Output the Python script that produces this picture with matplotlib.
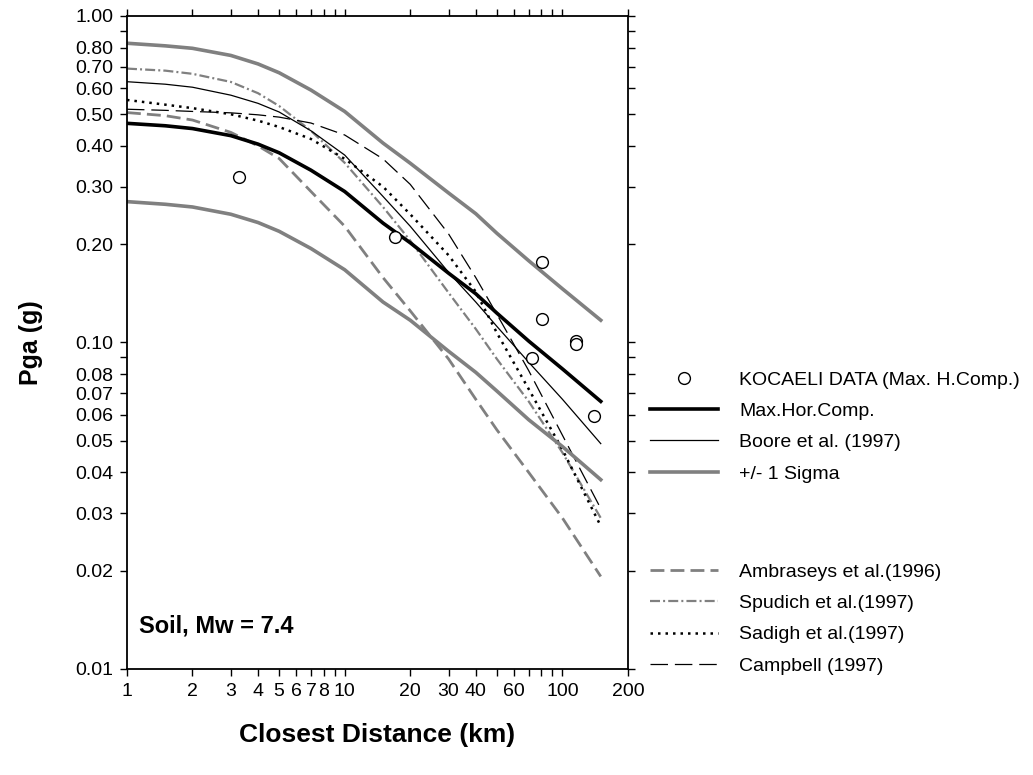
import matplotlib
matplotlib.use("Agg")
import matplotlib.pyplot as plt
from matplotlib.ticker import FixedLocator, FixedFormatter, NullLocator

plt.rcParams['font.family'] = ['Liberation Sans', 'DejaVu Sans']

dist = [1, 1.5, 2, 3, 4, 5, 7, 10, 15, 20, 30, 40, 50, 70, 100, 150]

max_hor = [0.469, 0.461, 0.452, 0.430, 0.405, 0.381, 0.337, 0.290, 0.232, 0.202,
           0.163, 0.141, 0.123, 0.101, 0.083, 0.066]
sigma_up = [0.825, 0.810, 0.796, 0.757, 0.713, 0.670, 0.593, 0.510, 0.408, 0.354,
            0.287, 0.248, 0.216, 0.178, 0.146, 0.117]
sigma_lo = [0.270, 0.265, 0.260, 0.247, 0.233, 0.219, 0.194, 0.167, 0.133, 0.117,
            0.094, 0.081, 0.071, 0.058, 0.048, 0.038]
boore = [0.629, 0.618, 0.605, 0.572, 0.540, 0.508, 0.445, 0.375, 0.280, 0.227,
         0.164, 0.133, 0.112, 0.087, 0.067, 0.049]
ambraseys = [0.506, 0.495, 0.480, 0.440, 0.400, 0.366, 0.290, 0.227, 0.158, 0.125,
             0.089, 0.067, 0.054, 0.040, 0.029, 0.0192]
spudich = [0.690, 0.680, 0.665, 0.628, 0.580, 0.530, 0.445, 0.355, 0.260, 0.205,
           0.142, 0.110, 0.089, 0.066, 0.046, 0.029]
sadigh = [0.553, 0.535, 0.522, 0.500, 0.478, 0.457, 0.420, 0.365, 0.300, 0.247,
          0.185, 0.143, 0.107, 0.072, 0.047, 0.0274]
campbell = [0.518, 0.514, 0.510, 0.505, 0.498, 0.490, 0.470, 0.432, 0.365, 0.305,
            0.215, 0.158, 0.122, 0.082, 0.052, 0.031]

# Kocaeli recordings
data_dist = [3.27, 17.0, 80.6, 80.6, 72.3, 115.5, 115.5, 140.2]
data_pga = [0.321, 0.211, 0.176, 0.118, 0.0898, 0.101, 0.0987, 0.0596]

gray = '#808080'

fig = plt.figure(figsize=(10.33, 7.75), dpi=100)
ax = fig.add_axes([0.1229, 0.1368, 0.4850, 0.8426])

h_data, = ax.plot(data_dist, data_pga, 'o', ms=8.5, mfc='white', mec='black', mew=1.0,
                  label='KOCAELI DATA (Max. H.Comp.)', zorder=5)
h_amb, = ax.plot(dist, ambraseys, color=gray, lw=2.0, dashes=(5, 2.2),
                 label='Ambraseys et al.(1996)')
h_spu, = ax.plot(dist, spudich, color=gray, lw=1.6, dashes=(4.5, 1.4, 0.9, 1.4),
                 label='Spudich et al.(1997)')
h_sad, = ax.plot(dist, sadigh, color='black', lw=1.8, dashes=(1, 2),
                 label='Sadigh et al.(1997)')
h_cam, = ax.plot(dist, campbell, color='black', lw=0.9, dashes=(14, 5.5),
                 label='Campbell (1997)')
h_sig, = ax.plot(dist, sigma_up, color=gray, lw=2.6, label='+/- 1 Sigma')
ax.plot(dist, sigma_lo, color=gray, lw=2.6)
h_boo, = ax.plot(dist, boore, color='black', lw=0.9, label='Boore et al. (1997)')
h_max, = ax.plot(dist, max_hor, color='black', lw=2.6, label='Max.Hor.Comp.')

ax.set_xscale('log')
ax.set_yscale('log')
ax.set_xlim(1, 200)
ax.set_ylim(0.01, 1.0)

xt = [1, 2, 3, 4, 5, 6, 7, 8, 9, 10, 20, 30, 40, 50, 60, 70, 80, 90, 100, 200]
xl = ['1', '2', '3', '4', '5', '6', '7', '8', '', '10', '20', '30', '40', '', '60',
      '', '', '', '100', '200']
yt = [0.01, 0.02, 0.03, 0.04, 0.05, 0.06, 0.07, 0.08, 0.09, 0.1,
      0.2, 0.3, 0.4, 0.5, 0.6, 0.7, 0.8, 0.9, 1.0]
yl = ['0.01', '0.02', '0.03', '0.04', '0.05', '0.06', '0.07', '0.08', '', '0.10',
      '0.20', '0.30', '0.40', '0.50', '0.60', '0.70', '0.80', '', '1.00']
ax.xaxis.set_major_locator(FixedLocator(xt))
ax.xaxis.set_major_formatter(FixedFormatter(xl))
ax.xaxis.set_minor_locator(NullLocator())
ax.yaxis.set_major_locator(FixedLocator(yt))
ax.yaxis.set_major_formatter(FixedFormatter(yl))
ax.yaxis.set_minor_locator(NullLocator())

ax.tick_params(which='both', direction='out', length=5, width=1.0, labelsize=14,
               top=True, right=True, pad=5)
for s in ax.spines.values():
    s.set_linewidth(1.3)

ax.set_xlabel('Closest Distance (km)', fontsize=19, fontweight='bold', labelpad=17)
ax.set_ylabel('Pga (g)', fontsize=18, fontweight='bold', labelpad=23)
ax.text(0.024, 0.066, 'Soil, Mw = 7.4', transform=ax.transAxes, fontsize=17,
        fontweight='bold', va='center', ha='left')

leg_kw = dict(frameon=False, fontsize=14, handlelength=3.5, handletextpad=1.1,
              labelspacing=0.7, borderpad=0, borderaxespad=0, loc='upper left',
              numpoints=1, bbox_transform=fig.transFigure)
leg1 = fig.legend(handles=[h_data, h_max, h_boo, h_sig], bbox_to_anchor=(0.629, 0.521),
                  **leg_kw)
leg2 = fig.legend(handles=[h_amb, h_spu, h_sad, h_cam], bbox_to_anchor=(0.629, 0.273),
                  **leg_kw)

fig.savefig('out.png', dpi=100)
